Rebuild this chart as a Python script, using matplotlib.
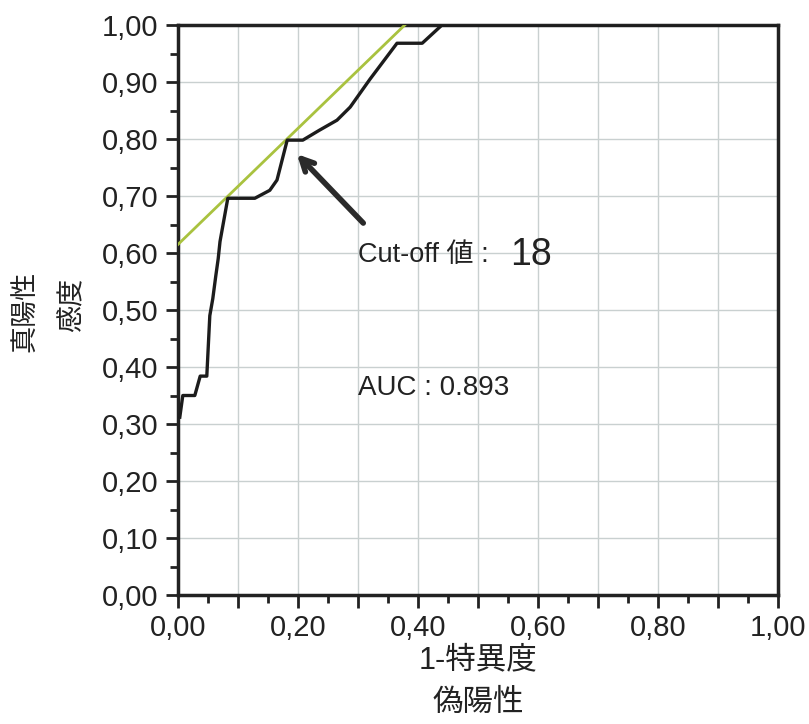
"""
ROC curve with cut-off tangent line
"""

# Imports
import matplotlib
matplotlib.use('Agg')
import matplotlib.pyplot as plt
import numpy

# Fonts: latin first, CJK as fallback
plt.rcParams['font.family'] = ['Liberation Sans', 'Noto Sans CJK JP', 'DejaVu Sans']

# ROC curve (1-specificity, sensitivity)
fpr = [0.003, 0.008, 0.028, 0.037, 0.048, 0.053, 0.058, 0.063, 0.067, 0.070,
       0.083, 0.128, 0.153, 0.165, 0.182, 0.208, 0.235, 0.265, 0.287, 0.320,
       0.365, 0.407, 0.440, 1.000]
tpr = [0.312, 0.350, 0.350, 0.384, 0.384, 0.490, 0.520, 0.560, 0.590, 0.620,
       0.696, 0.696, 0.710, 0.728, 0.798, 0.798, 0.815, 0.833, 0.856, 0.905,
       0.968, 0.968, 1.000, 1.000]

# Tangent line through the cut-off point
tangent_x = [0.0, 0.378]
tangent_y = [0.615, 1.0]

# Cut-off point and annotation
cutoff_point = (0.195, 0.777)
arrow_tail = (0.312, 0.649)
cutoff_text = 'Cut-off 値 :'
cutoff_value = '18'
auc_text = 'AUC : 0.893'

# Ticks
major_ticks = numpy.round(numpy.arange(0, 1.01, 0.1), 2)
minor_ticks = numpy.round(numpy.arange(0.05, 1.0, 0.1), 2)
y_labels = ['0,00', '0,10', '0,20', '0,30', '0,40', '0,50', '0,60', '0,70', '0,80', '0,90', '1,00']
x_labels = ['0,00', '', '0,20', '', '0,40', '', '0,60', '', '0,80', '', '1,00']

# Figure
W, H = 809, 724
fig = plt.figure(figsize=(W / 100, H / 100), dpi=100)
ax = fig.add_axes([178 / W, 1 - 595 / H, 600 / W, 570 / H])

# Grid
ax.set_xticks(major_ticks)
ax.set_yticks(major_ticks)
ax.set_xticks(minor_ticks, minor=True)
ax.set_yticks(minor_ticks, minor=True)
ax.grid(which='major', color='#c9d0d0', lw=1.0)
ax.set_axisbelow(True)

# Curves
ax.plot(tangent_x, tangent_y, color='#a9c23f', lw=2.0, zorder=3)
ax.plot(fpr, tpr, color='#1c1c1c', lw=2.4, zorder=4)

# Arrow
ax.annotate('', xy=cutoff_point, xytext=arrow_tail,
            arrowprops=dict(arrowstyle='->,head_length=0.9,head_width=0.45',
                            color='#2a2a2a', lw=4), zorder=5)

# Texts
ax.text(0.30, 0.596, cutoff_text, fontsize=19.5, color='#222222', va='center', ha='left')
ax.text(0.553, 0.596, cutoff_value, fontsize=27, color='#222222', va='center', ha='left')
ax.text(0.30, 0.363, auc_text, fontsize=20, color='#222222', va='center', ha='left')

# Axes
ax.set_xlim(0, 1)
ax.set_ylim(0, 1)
ax.set_xticklabels(x_labels)
ax.set_yticklabels(y_labels)
ax.tick_params(which='major', direction='out', length=9, width=2, labelsize=21,
               colors='#222222', pad=5)
ax.tick_params(which='minor', direction='out', length=6, width=2, colors='#222222')
for spine in ax.spines.values():
    spine.set_linewidth(2.5)
    spine.set_color('#222222')

# Axis labels
fig.text(478 / W, 1 - 660 / H, '1-特異度', fontsize=22, ha='center', va='center', color='#222222')
fig.text(478 / W, 1 - 703 / H, '偽陽性', fontsize=22, ha='center', va='center', color='#222222')
fig.text(26 / W, 1 - 311 / H, '真陽性', fontsize=19.5, ha='center', va='center',
         rotation=90, color='#222222')
fig.text(72 / W, 1 - 305 / H, '感度', fontsize=19.5, ha='center', va='center',
         rotation=90, color='#222222')

plt.savefig('out.png', dpi=100)
plt.close()
